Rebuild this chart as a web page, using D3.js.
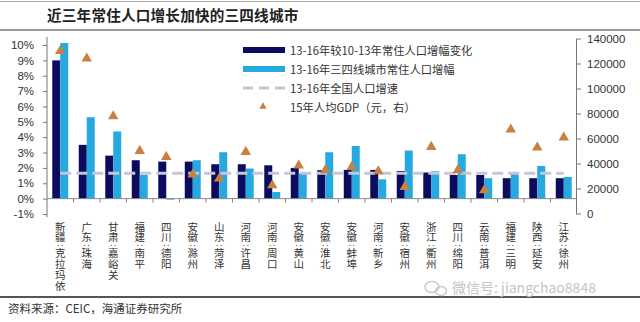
<!DOCTYPE html>
<html><head><meta charset="utf-8">
<script src="https://cdn.jsdelivr.net/npm/d3@7/dist/d3.min.js"></script>
<style>
html,body{margin:0;padding:0;background:#fff;}
svg{display:block;}
</style></head>
<body><svg id="c" width="640" height="322"></svg>
<script>
// ---- data ----
const cities = ["新疆：克拉玛依","广东：珠海","甘肃：嘉峪关","福建：南平","四川：德阳","安徽：滁州","山东：菏泽","河南：许昌","河南：周口","安徽：黄山","安徽：淮北","安徽：蚌埠","河南：新乡","安徽：宿州","浙江：衢州","四川：绵阳","云南：普洱","福建：三明","陕西：延安","江苏：徐州"];
const changeVs1013 = [9.0,3.5,2.8,2.5,2.41,2.41,2.24,2.24,2.17,2.0,1.85,1.87,1.87,1.8,1.7,1.54,1.54,1.33,1.33,1.33];
const growth1316 = [10.13,5.3,4.37,1.54,-0.05,2.5,3.02,1.96,0.43,1.65,3.02,3.43,1.26,3.13,1.78,2.89,1.33,1.6,2.13,1.41];
const gdp2015 = [130000,124000,77800,50100,45300,31200,28000,49300,22600,38400,34600,37300,33800,21300,53300,34600,18600,67200,52800,60800];
const nationalGrowth = 1.65;
const leftTicks = [-1,0,1,2,3,4,5,6,7,8,9,10];
const rightTicks = [0,20000,40000,60000,80000,100000,120000,140000];
const legendLabels = ["13-16年较10-13年常住人口增幅变化","13-16年三四线城市常住人口增幅","13-16年全国人口增速","15年人均GDP（元，右）"];

const C_DARK = "#0b0b60", C_LIGHT = "#25a9e0", C_DASH = "#c6c6d6", C_TRI = "#c98040";
const svg = d3.select("#c");
const cjk = "'Noto Sans CJK SC','Noto Sans',sans-serif";
const latin = "Arial,'Liberation Sans',sans-serif";

// frame lines
svg.append("line").attr("x1",0).attr("x2",640).attr("y1",1.5).attr("y2",1.5).attr("stroke","#aaa").attr("stroke-width",1);
svg.append("line").attr("x1",0).attr("x2",640).attr("y1",30).attr("y2",30).attr("stroke","#777").attr("stroke-width",1.5);
svg.append("text").attr("x",47).attr("y",21).attr("font-family",cjk).attr("font-weight","bold")
  .attr("font-size",14.6).attr("fill","#222").attr("letter-spacing",0.2).text("近三年常住人口增长加快的三四线城市");

// scales
const x = d3.scaleBand().domain(d3.range(cities.length)).range([47,577]);
const x1 = d3.scaleBand().domain([0,1]).range([0,x.bandwidth()]).paddingOuter(0.66).paddingInner(0);
const yL = d3.scaleLinear().domain([-1,10]).range([214,45]);
const yR = d3.scaleLinear().domain([0,140000]).range([213.5,38.5]);

// left axis
const gL = svg.append("g").attr("transform","translate(47,0)")
  .call(d3.axisLeft(yL).tickValues(leftTicks).tickFormat(d=>d+"%").tickSize(4).tickSizeOuter(0));
gL.select(".domain").remove();
gL.selectAll(".tick line").attr("stroke","#777");
gL.selectAll("text").attr("font-family",latin).attr("font-size",11.5).attr("fill","#333").attr("dx",-6);
svg.append("line").attr("x1",47).attr("x2",47).attr("y1",37).attr("y2",217).attr("stroke","#777");

// right axis
const gR = svg.append("g").attr("transform","translate(576,0)")
  .call(d3.axisRight(yR).tickValues(rightTicks).tickFormat(d3.format("d")).tickSize(5).tickSizeOuter(0));
gR.select(".domain").attr("stroke","#777");
gR.selectAll(".tick line").attr("stroke","#777");
gR.selectAll("text").attr("font-family",latin).attr("font-size",11.5).attr("fill","#333").attr("dx",3);

// bars
const g = svg.append("g");
g.selectAll(".b1").data(changeVs1013).join("rect")
  .attr("x",(d,i)=>x(i)+x1(0)).attr("width",x1.bandwidth())
  .attr("y",d=>yL(Math.max(0,d))).attr("height",d=>Math.abs(yL(d)-yL(0))).attr("fill",C_DARK);
g.selectAll(".b2").data(growth1316).join("rect")
  .attr("x",(d,i)=>x(i)+x1(1)).attr("width",x1.bandwidth())
  .attr("y",d=>yL(Math.max(0,d))).attr("height",d=>Math.max(1,Math.abs(yL(d)-yL(0)))).attr("fill",C_LIGHT);

// x axis at 0
svg.append("line").attr("x1",47).attr("x2",577).attr("y1",yL(0)).attr("y2",yL(0)).attr("stroke","#888");
svg.selectAll(".xt").data(d3.range(1,cities.length)).join("line")
  .attr("x1",d=>x(d)).attr("x2",d=>x(d)).attr("y1",yL(0)).attr("y2",yL(0)+4).attr("stroke","#888");

// national growth dashed line
const cx = i => x(i)+x.bandwidth()/2;
svg.append("line").attr("x1",cx(0)).attr("x2",cx(cities.length-1))
  .attr("y1",yL(nationalGrowth)).attr("y2",yL(nationalGrowth))
  .attr("stroke",C_DASH).attr("stroke-width",3).attr("stroke-dasharray","11,5");

// triangles
const tri = d3.symbol().type(d3.symbolTriangle).size(48);
svg.selectAll(".tri").data(gdp2015).join("path")
  .attr("d",tri).attr("transform",(d,i)=>`translate(${cx(i)},${yR(d)})`).attr("fill",C_TRI);

// x labels (vertical, stacked characters)
cities.forEach((name,i)=>{
  const t = svg.append("text").attr("text-anchor","middle").attr("font-family",cjk)
    .attr("font-size",10.5).attr("fill","#333");
  let yy = 230.5;
  Array.from(name).forEach(ch=>{
    const isColon = ch==="：";
    if(isColon) yy -= 3;
    t.append("tspan").attr("x",cx(i)).attr("y",yy).attr("font-size",isColon?8:10.5).text(isColon?"‥":ch);
    yy += isColon ? 8.3 : 10.8;
  });
});

// legend
const lg = svg.append("g");
const ly = [50,69,88,106.5];
lg.append("rect").attr("x",243).attr("y",ly[0]-3).attr("width",42).attr("height",6).attr("fill",C_DARK);
lg.append("rect").attr("x",243).attr("y",ly[1]-3).attr("width",42).attr("height",6).attr("fill",C_LIGHT);
lg.append("line").attr("x1",243).attr("x2",287).attr("y1",ly[2]).attr("y2",ly[2]).attr("stroke",C_DASH)
  .attr("stroke-width",3).attr("stroke-dasharray","10,6");
lg.append("path").attr("d",d3.symbol().type(d3.symbolTriangle).size(24)).attr("transform",`translate(263,${ly[3]})`).attr("fill",C_TRI);
legendLabels.forEach((t,i)=>{
  lg.append("text").attr("x",290).attr("y",ly[i]).attr("dominant-baseline","central")
    .attr("font-family",cjk).attr("font-size",11.3).attr("fill","#333").text(t);
});

// footer
svg.append("line").attr("x1",0).attr("x2",640).attr("y1",297).attr("y2",297).attr("stroke","#555").attr("stroke-width",2);
svg.append("text").attr("x",452).attr("y",293).attr("font-family",cjk).attr("font-size",14).attr("fill","#c4c4c4").text("微信号: jiangchao8848");
svg.append("ellipse").attr("cx",432).attr("cy",287).attr("rx",7).attr("ry",5.5).attr("fill","none").attr("stroke","#ccc").attr("stroke-width",1.5);
svg.append("ellipse").attr("cx",441).attr("cy",291).attr("rx",5.5).attr("ry",4.5).attr("fill","none").attr("stroke","#ccc").attr("stroke-width",1.5);
svg.append("text").attr("x",8).attr("y",313).attr("font-family",cjk).attr("font-size",11.5).attr("fill","#333").text("资料来源：CEIC，海通证券研究所");
</script></body></html>
